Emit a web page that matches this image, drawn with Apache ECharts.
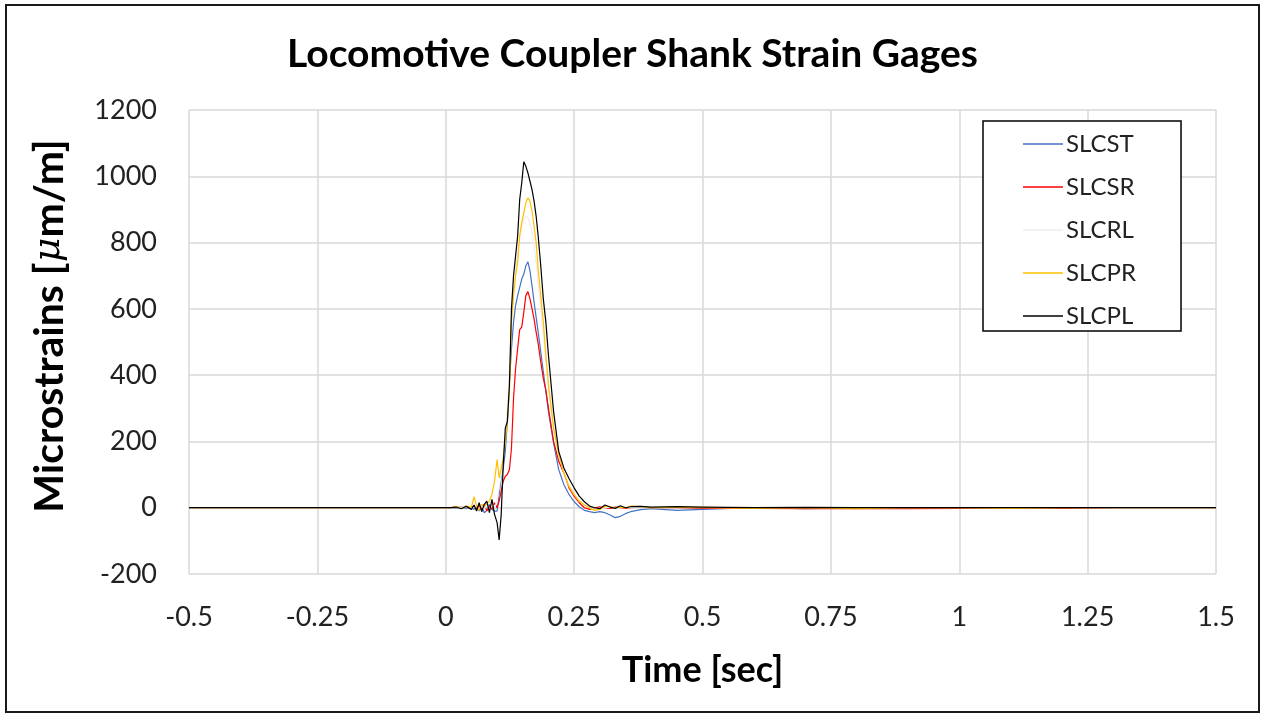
<!DOCTYPE html>
<html lang="en">
<head>
    <meta charset="UTF-8">
    <title>Locomotive Coupler Shank Strain Gages</title>
    <script src="https://cdn.jsdelivr.net/npm/echarts@6/dist/echarts.min.js"></script>
    <style>
        html, body { margin: 0; padding: 0; background: #fff; }
        #main { width: 1265px; height: 717px; }
    </style>
</head>
<body>
<div id="main"></div>
<script type="text/javascript">
    // time axis (sec), shared by all gages
    var timeSec = [
        -0.5, -0.25, 0, 0.01, 0.02, 0.03, 0.04, 0.05, 0.055, 0.06,
        0.065, 0.07, 0.075, 0.08, 0.085, 0.09, 0.095, 0.1, 0.104, 0.108,
        0.112, 0.116, 0.12, 0.124, 0.128, 0.132, 0.136, 0.14, 0.144, 0.148,
        0.152, 0.156, 0.16, 0.164, 0.168, 0.172, 0.176, 0.18, 0.185, 0.19,
        0.195, 0.2, 0.21, 0.22, 0.23, 0.24, 0.25, 0.26, 0.27, 0.28,
        0.29, 0.3, 0.31, 0.32, 0.33, 0.34, 0.35, 0.36, 0.38, 0.4,
        0.45, 0.5, 0.6, 0.7, 0.8, 0.9, 1.0, 1.1, 1.2, 1.3,
        1.4, 1.5
    ];
    // microstrains
    var slcst = [
        0, 0, 0, 0, -2, 2, -3, 0, -5, 3,
        -10, 5, -15, -8, 10, -5, -10, -10, 40, 90,
        120, 170, 260, 380, 480, 560, 610, 640, 665, 690,
        705, 730, 742, 715, 670, 620, 575, 530, 470, 410,
        350, 290, 195, 115, 70, 40, 18, 3, -8, -12,
        -15, -12, -15, -22, -30, -26, -18, -12, -6, -3,
        -8, -5, 0, -3, 0, -2, 0, 0, 0, 0,
        0, 0
    ];
    var slcsr = [
        0, 0, 0, 0, 2, 0, 3, 0, 5, -3,
        8, -5, 10, -10, 5, -5, 15, 0, 20, 50,
        80, 95, 100, 115, 180, 330, 420, 480, 537, 545,
        590, 640, 652, 630, 600, 570, 530, 495, 440, 390,
        355, 300, 200, 140, 105, 60, 35, 15, 0, -5,
        0, 3, 0, -2, 2, 0, -2, 0, 2, 0,
        0, -2, -2, -3, -2, -3, -2, 0, -2, 0,
        0, 0
    ];
    var slcrl = [
        0, 0, 0, 0, 0, 0, 0, 0, 0, 5,
        -5, 5, -5, 10, -10, 10, 0, 20, 60, 100,
        150, 220, 300, 420, 580, 660, 720, 770, 820, 850,
        870, 880, 875, 860, 830, 790, 740, 680, 600, 520,
        440, 370, 250, 160, 105, 65, 40, 20, 8, 0,
        -5, -3, 0, 2, 0, 0, 0, 0, 0, 0,
        0, 0, 0, 0, 0, 0, 0, 0, 0, 0,
        0, 0
    ];
    var slcpr = [
        0, 0, 0, 0, 3, -2, 5, 2, 33, 5,
        -8, 10, 5, 12, 20, 40, 80, 145, 90, 120,
        150, 200, 260, 350, 560, 640, 700, 740, 820, 860,
        890, 920, 935, 925, 895, 850, 800, 720, 640, 560,
        460, 370, 240, 160, 105, 65, 40, 20, 8, 0,
        -8, -5, 5, 3, 0, 2, 0, 5, 3, 0,
        2, 1, -2, 0, -3, 0, 0, -2, 0, 0,
        0, 0
    ];
    var slcpl = [
        0, 0, 0, 0, 2, -3, 4, -5, 8, -10,
        15, -12, 10, 20, -15, 25, -20, -45, -97, -20,
        130, 240, 260, 370, 600, 700, 760, 820, 930, 980,
        1044, 1030, 1010, 985, 960, 925, 880, 820, 730, 630,
        560, 460, 290, 170, 120, 88, 60, 35, 18, 5,
        0, -3, 8, 2, -2, 6, 0, 3, 4, 2,
        3, 2, 0, 1, 0, 0, 0, 0, 0, 0,
        0, 0
    ];
    var seriesNames = ['SLCST', 'SLCSR', 'SLCRL', 'SLCPR', 'SLCPL'];
    var seriesValues = [slcst, slcsr, slcrl, slcpr, slcpl];
    var seriesColors = ['#4472c4', '#ff0000', '#eeeeee', '#ffc000', '#000000'];

    var myChart = echarts.init(document.getElementById('main'));

    function pairUp(values) {
        return timeSec.map(function (t, i) { return [t, values[i]]; });
    }

    var series = seriesNames.map(function (name, k) {
        return {
            name: name,
            type: 'line',
            data: pairUp(seriesValues[k]),
            symbol: 'none',
            lineStyle: { width: 1.2, color: seriesColors[k] },
            itemStyle: { color: seriesColors[k] },
            animation: false
        };
    });

    var option = {
        backgroundColor: '#fff',
        textStyle: { fontFamily: 'Lato' },
        title: {
            text: 'Locomotive Coupler Shank Strain Gages',
            left: 'center',
            top: 30,
            textStyle: { fontFamily: 'Lato', fontWeight: 'bold', fontSize: 39, color: '#000' }
        },
        graphic: [{
            type: 'rect',
            shape: { x: 6, y: 5, width: 1253, height: 707 },
            style: { fill: 'none', stroke: '#1a1a1a', lineWidth: 2 },
            z: 100
        }],
        legend: {
            orient: 'vertical',
            left: 983,
            top: 121,
            padding: [11, 45, 3, 40],
            icon: 'rect',
            itemWidth: 40,
            itemHeight: 1.5,
            itemGap: 19,
            borderColor: '#000',
            borderWidth: 1.5,
            backgroundColor: '#fff',
            textStyle: { fontFamily: 'Lato', fontSize: 24, color: '#222', lineHeight: 24, padding: [0, 0, 0, -2] },
            data: seriesNames
        },
        grid: { left: 189, right: 49, top: 110, bottom: 143, containLabel: false },
        xAxis: {
            type: 'value',
            min: -0.5,
            max: 1.5,
            interval: 0.25,
            name: 'Time [sec]',
            nameLocation: 'middle',
            nameGap: 78,
            nameTextStyle: { fontFamily: 'Lato', fontWeight: 'bold', fontSize: 36, color: '#000' },
            axisLine: { show: true, lineStyle: { color: '#d9d9d9', width: 1 } },
            axisTick: { show: false },
            axisLabel: { fontSize: 27, color: '#222', margin: 30 },
            splitLine: { show: true, lineStyle: { color: '#d9d9d9', width: 1.5 } }
        },
        yAxis: {
            type: 'value',
            min: -200,
            max: 1200,
            interval: 200,
            name: '{b|Microstrains [}{i|μ}{b|m/m]}',
            nameLocation: 'middle',
            nameGap: 119,
            nameRotate: 90,
            nameTextStyle: {
                padding: [0, 0, 0, 32],
                rich: {
                    b: { fontFamily: 'Lato', fontWeight: 'bold', fontSize: 41, color: '#000' },
                    i: { fontFamily: 'DejaVu Serif', fontStyle: 'italic', fontSize: 38, color: '#000' }
                }
            },
            axisLine: { show: false },
            axisTick: { show: false },
            axisLabel: {
                fontSize: 27, color: '#222', margin: 32,
                formatter: function (v) { return String(v); }
            },
            splitLine: { show: true, lineStyle: { color: '#d9d9d9', width: 1.5 } }
        },
        series: series
    };
    myChart.setOption(option);
</script>
</body>
</html>
